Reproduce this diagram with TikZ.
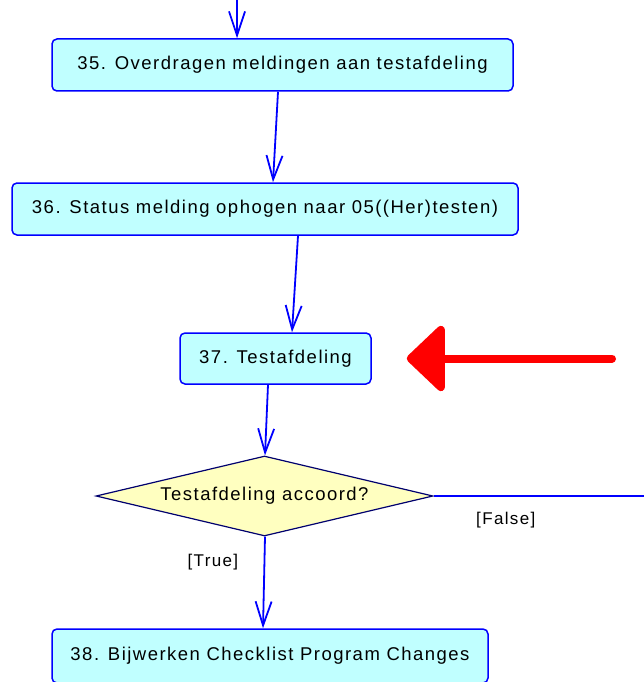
\documentclass[tikz,border=0pt]{standalone}
\usepackage{fontspec}
\setmainfont{Liberation Sans}[LetterSpace=8]
\usetikzlibrary{arrows.meta, shapes.geometric}
\definecolor{boxfill}{RGB}{192,255,255}
\definecolor{decfill}{RGB}{255,255,192}
\definecolor{flowblue}{RGB}{0,0,255}
\definecolor{decline}{RGB}{0,0,110}

\begin{document}
\begin{tikzpicture}[x=1pt, y=-1pt,
    >={Straight Barb[length=24pt,width=16pt]},
    action/.style={draw=flowblue, line width=1.5pt, fill=boxfill, rounded corners=5pt,
        minimum height=52pt, inner sep=0pt, font=\fontsize{18.5}{20}\selectfont},
    decision/.style={draw=decline, line width=1.2pt, fill=decfill, diamond, aspect=4.2,
        minimum width=337pt, minimum height=80pt, inner sep=0pt, font=\fontsize{18.5}{20}\selectfont},
    flow/.style={->, draw=flowblue, line width=1.8pt},
    guard/.style={font=\fontsize{17}{20}\selectfont}]
    \useasboundingbox (0,0) rectangle (644,682);

    \node[action, minimum width=461pt] (act35) at (282.5,65) {35. Overdragen meldingen aan testafdeling};
    \node[action, minimum width=506pt] (act36) at (265,209) {36. Status melding ophogen naar 05((Her)testen)};
    \node[action, minimum width=191pt, minimum height=51pt] (act37) at (275.5,358.5) {37. Testafdeling};
    \node[decision] (check) at (264.5,496) {Testafdeling accoord?};
    \node[action, minimum width=436pt, minimum height=54pt] (act38) at (270,656) {38. Bijwerken Checklist Program Changes};

    \coordinate (entry) at (237,-2);
    \coordinate (exit) at (646,496);
    \coordinate (marker) at (612,358.5);

    \draw[flow] (entry) -- ([xshift=-45.5pt]act35.north);
    \draw[flow] ([xshift=-4.5pt]act35.south) -- ([xshift=8pt]act36.north);
    \draw[flow] ([xshift=33pt]act36.south) -- ([xshift=16.5pt]act37.north);
    \draw[flow] ([xshift=-7.5pt]act37.south) -- ([xshift=0.5pt]check.north);
    \draw[flow] ([xshift=0.5pt]check.south) -- ([xshift=-7pt]act38.north)
        node[guard, pos=0.28, left=22pt] {[True]};
    \draw[draw=flowblue, line width=1.8pt] (check.east) -- (exit)
        node[guard, pos=0.34, below=12pt] {[False]};

    % pointer to the current step
    \draw[-{Triangle[length=40pt,width=74pt,round]}, red, line width=8pt, line cap=round]
        (marker) -- ([xshift=35pt]act37.east);
\end{tikzpicture}
\end{document}
